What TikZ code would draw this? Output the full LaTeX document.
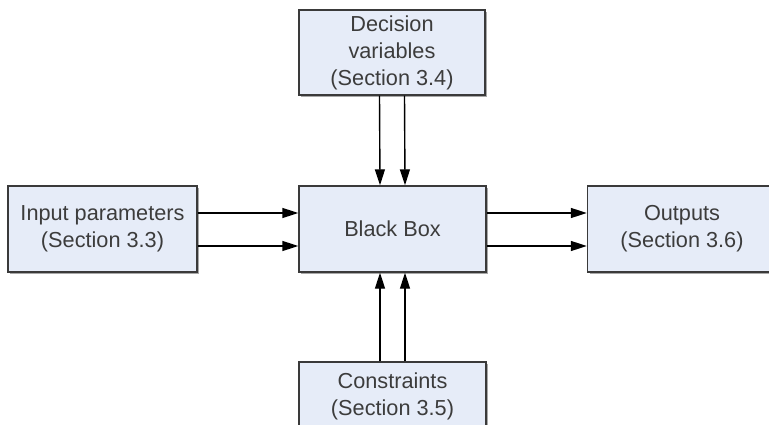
\documentclass[tikz,border=0pt]{standalone}
\usepackage{fontspec}
\setmainfont{Liberation Sans}
\usetikzlibrary{arrows.meta,shadows}
\definecolor{boxfill}{HTML}{E6ECF8}
\definecolor{boxline}{HTML}{3A3A3A}
\definecolor{shadowgray}{HTML}{A8A8A8}
\definecolor{textgray}{HTML}{3C3C3C}
\begin{document}
\begin{tikzpicture}[x=1pt,y=-1pt,
  blk/.style={draw=boxline, line width=1.4pt, fill=boxfill,
    minimum width=187pt, minimum height=86pt, inner sep=0pt, align=center,
    font=\fontsize{21.7}{27}\selectfont, text=textgray,
    drop shadow={shadow xshift=2pt, shadow yshift=-2pt, fill=shadowgray, opacity=1}},
  flow/.style={line width=1.4pt, draw=black, -{Triangle[length=16pt,width=10pt]}}]
\useasboundingbox (0,0) rectangle (769,425);
\fill[white] (0,0) rectangle (769,425);
\begin{scope}
\clip (0,0) rectangle (769,425);
% the five blocks
\node[blk, minimum width=186pt, minimum height=85pt] (dec) at (392,52.5) {Decision\\variables\\(Section 3.4)};
\node[blk, minimum width=189pt] (inp) at (102.5,229) {Input parameters\\(Section 3.3)};
\node[blk] (bb) at (392.5,229) {Black Box};
\node[blk, minimum width=189pt] (out) at (682,229) {Outputs\\(Section 3.6)};
\node[blk, minimum height=68pt] (con) at (392.5,396) {Constraints\\(Section 3.5)};
% paired flows into and out of the black box
\draw[flow] ([xshift=-12.5pt]dec.south) -- ([xshift=-12.5pt]bb.north);
\draw[flow] ([xshift=12.5pt]dec.south) -- ([xshift=12.5pt]bb.north);
\draw[flow] ([yshift=16pt]inp.east) -- ([yshift=16pt]bb.west);
\draw[flow] ([yshift=-17pt]inp.east) -- ([yshift=-17pt]bb.west);
\draw[flow] ([yshift=16pt]bb.east) -- ([yshift=16pt]out.west);
\draw[flow] ([yshift=-17pt]bb.east) -- ([yshift=-17pt]out.west);
\draw[flow] ([xshift=-12.5pt]con.north) -- ([xshift=-12.5pt]bb.south);
\draw[flow] ([xshift=12.5pt]con.north) -- ([xshift=12.5pt]bb.south);
\end{scope}
\end{tikzpicture}
\end{document}
